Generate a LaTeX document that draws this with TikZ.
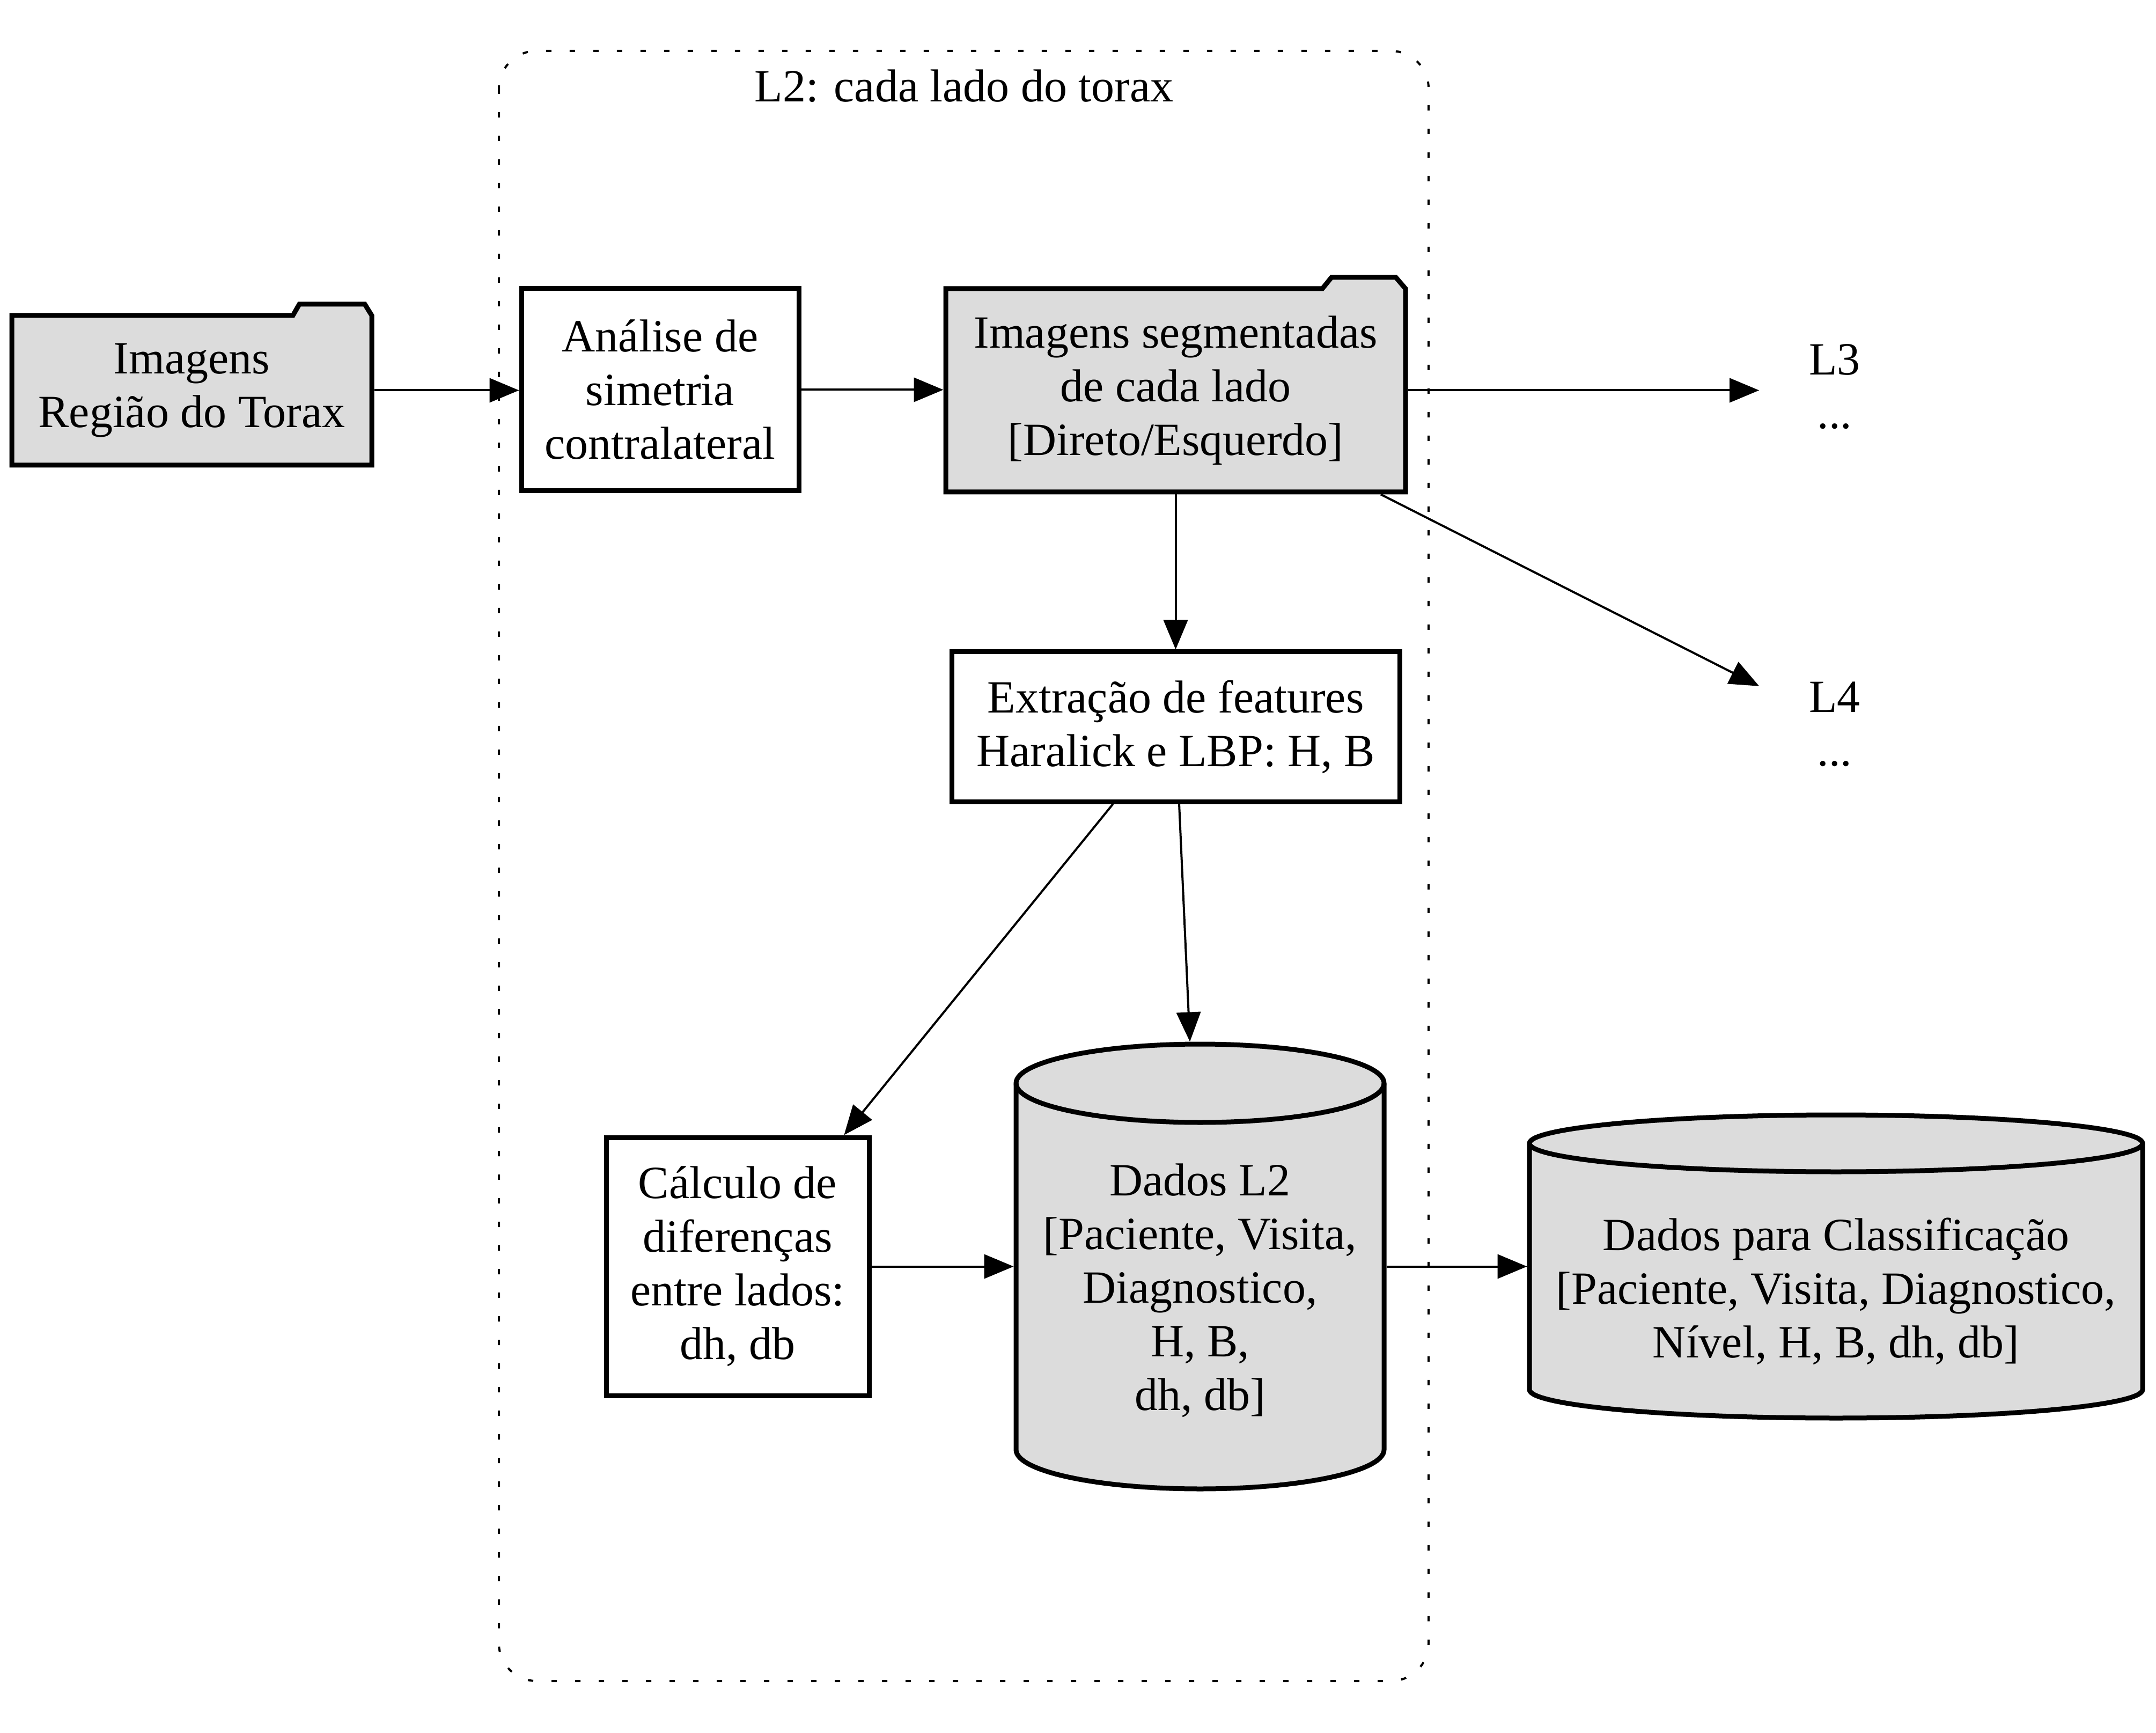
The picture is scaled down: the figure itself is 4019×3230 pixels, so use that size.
\documentclass[tikz,border=0pt]{standalone}
\usepackage{fontspec}
\setmainfont{Liberation Serif}
\usetikzlibrary{arrows.meta}
\definecolor{gfill}{HTML}{DCDCDC}
\tikzset{
  base/.style={font=\fontsize{21.5}{25}\selectfont, align=center, inner sep=0pt},
  proc/.style={base, draw=black, line width=2.25pt, fill=white},
  ghost/.style={base, outer sep=1.125pt},
  shapeline/.style={draw=black, line width=2.25pt, fill=gfill},
  edgeline/.style={line width=1pt, -{Triangle[length=13.75pt,width=11.25pt]}},
  clusterline/.style={line width=1pt, dash pattern=on 2.5pt off 8.5pt, rounded corners=17.5pt}
}
\begin{document}
\begin{tikzpicture}[x=0.25pt, y={(0pt,-0.25pt)}]
\useasboundingbox (0,0) rectangle (4019,3230);
% cluster
\draw[clusterline] (930,95) rectangle (2663,3133);
\node[base, anchor=base] (cl) at (1797,190) {L2: cada lado do torax};
% folder shapes
\draw[shapeline] (22,867) -- (22,588) -- (546,588) -- (558,567) -- (680,567) -- (693,588) -- (693,867) -- cycle;
\draw[shapeline] (1763,917) -- (1763,538) -- (2465,538) -- (2482,517) -- (2602,517) -- (2620,538) -- (2620,917) -- cycle;
% cylinder shapes
\draw[shapeline] (1894,2019) -- (1894,2702) arc[start angle=180,end angle=360,x radius=85.75pt,y radius=18.25pt] -- (2580,2019) arc[start angle=0,end angle=180,x radius=85.75pt,y radius=18.25pt] -- cycle;
\draw[line width=2.25pt] (1894,2019) arc[start angle=180,end angle=360,x radius=85.75pt,y radius=18.25pt];
\draw[shapeline] (2851,2131) -- (2851,2590) arc[start angle=180,end angle=360,x radius=142.875pt,y radius=13.25pt] -- (3994,2131) arc[start angle=0,end angle=180,x radius=142.875pt,y radius=13.25pt] -- cycle;
\draw[line width=2.25pt] (2851,2131) arc[start angle=180,end angle=360,x radius=142.875pt,y radius=13.25pt];
% nodes
\node[ghost, minimum width=167.75pt, minimum height=69.75pt] (img) at (357.5,727.5) {Imagens\\Região do Torax};
\node[proc, minimum width=129.25pt, minimum height=94.25pt] (ana) at (1230.5,726.5) {Análise de\\simetria\\contralateral};
\node[ghost, minimum width=214.25pt, minimum height=94.75pt] (seg) at (2191.5,727.5) {Imagens segmentadas\\de cada lado\\{[}Direto/Esquerdo{]}};
\node[proc, minimum width=208.75pt, minimum height=69.75pt] (ext) at (2191.5,1354.5) {Extração de features\\Haralick e LBP: H, B};
\node[proc, minimum width=122.5pt, minimum height=120.25pt] (calc) at (1375,2360.5) {Cálculo de\\diferenças\\entre lados:\\dh, db};
\node[ghost, minimum width=171.5pt, minimum height=207.25pt] (dl2) at (2237,2360.5) {};
\node[base] (dl2t) at (2237,2405) {Dados L2\\{[}Paciente, Visita,\\Diagnostico,\\H, B,\\dh, db{]}};
\node[ghost, minimum width=285.75pt, minimum height=141.25pt] (dc) at (3422.5,2360.5) {};
\node[base] (dct) at (3422.5,2407) {Dados para Classificação\\{[}Paciente, Visita, Diagnostico,\\Nível, H, B, dh, db{]}};
\node[base, minimum width=70pt, minimum height=50pt] (L3) at (3420,721) {L3\\...};
\node[base, minimum width=70pt, minimum height=50pt] (L4) at (3420,1350) {L4\\...};
% edges
\draw[edgeline] (img.east) -- (img.east -| ana.west);
\draw[edgeline] (ana.east) -- (ana.east -| seg.west);
\draw[edgeline] (seg.east) -- (seg.east -| L3.west);
\draw[edgeline] (seg) -- (L4);
\draw[edgeline] (seg) -- (ext);
\draw[edgeline] (ext) -- (calc);
\draw[edgeline] (ext) -- (dl2);
\draw[edgeline] (calc) -- (dl2);
\draw[edgeline] (dl2) -- (dc);
\end{tikzpicture}
\end{document}
